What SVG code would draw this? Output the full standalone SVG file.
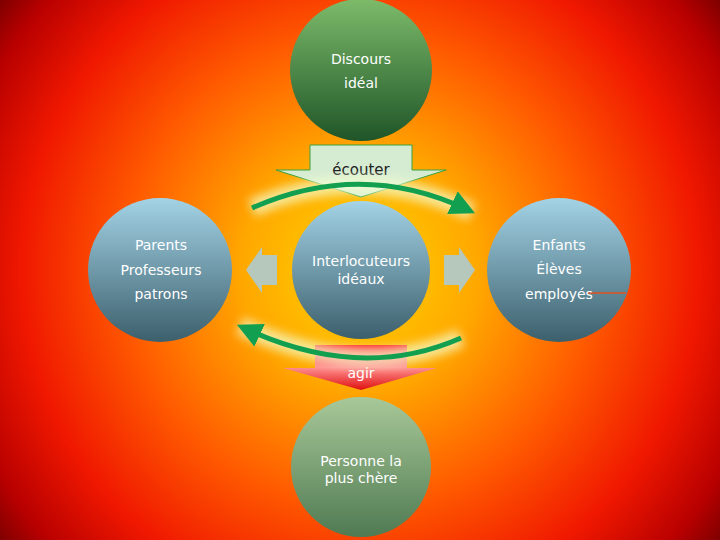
<svg xmlns="http://www.w3.org/2000/svg" width="720" height="540" viewBox="0 0 720 540">
<defs>
<radialGradient id="bg" cx="360" cy="270" r="470" gradientUnits="userSpaceOnUse">
<stop offset="0" stop-color="#ffd400"/><stop offset="0.25" stop-color="#ffa800"/><stop offset="0.5" stop-color="#ff5a00"/><stop offset="0.72" stop-color="#f01800"/><stop offset="0.88" stop-color="#b80000"/><stop offset="1" stop-color="#600000"/></radialGradient>
<linearGradient id="blue" x1="0" y1="0" x2="0" y2="1"><stop offset="0" stop-color="#a3d3e6"/><stop offset="1" stop-color="#3c5f6c"/></linearGradient>
<linearGradient id="green" x1="0" y1="0" x2="0" y2="1"><stop offset="0" stop-color="#7dbb6a"/><stop offset="1" stop-color="#1f5528"/></linearGradient>
<linearGradient id="sage" x1="0" y1="0" x2="0" y2="1"><stop offset="0" stop-color="#a8c898"/><stop offset="1" stop-color="#4f7a52"/></linearGradient>
<linearGradient id="red" x1="0" y1="0" x2="0" y2="1"><stop offset="0" stop-color="#ff2020"/><stop offset="0.5" stop-color="#ff9090"/><stop offset="1" stop-color="#e01010"/></linearGradient>
<filter id="glow" x="-20%" y="-50%" width="140%" height="200%"><feGaussianBlur stdDeviation="5"/></filter>
<marker id="ah" viewBox="0 0 10 10" refX="6" refY="5" markerWidth="5" markerHeight="5" orient="auto"><path d="M0,0 L10,5 L0,10 z" fill="#12a050"/></marker>
<style>
.t{font-family:"DejaVu Sans",sans-serif;font-size:14px;fill:#fff;text-anchor:middle}
.td{font-family:"DejaVu Sans",sans-serif;font-size:15px;fill:#222;text-anchor:middle}
.arc{fill:none;stroke:#12a050;stroke-width:5;marker-end:url(#ah)}
.glow{fill:none;stroke:#f4ffd0;stroke-width:18;opacity:0.7;filter:url(#glow)}
.side{fill:#b5c8bb}
</style>
</defs>
<rect width="720" height="540" fill="url(#bg)"/>
<g id="top"><circle cx="361" cy="70" r="71" fill="url(#green)"/><text class="t" x="361" y="64">Discours</text><text class="t" x="361" y="88">idéal</text></g>
<g id="left"><circle cx="160" cy="270" r="72" fill="url(#blue)"/><text class="t" x="161" y="250">Parents</text><text class="t" x="161" y="275">Professeurs</text><text class="t" x="161" y="299">patrons</text></g>
<g id="center"><circle cx="361" cy="270" r="69" fill="url(#blue)"/><text class="t" x="361" y="266">Interlocuteurs</text><text class="t" x="361" y="284">idéaux</text></g>
<g id="right"><circle cx="559" cy="270" r="72" fill="url(#blue)"/><line x1="588" y1="293" x2="626" y2="293" stroke="#e05020" stroke-width="1.5"/><text class="t" x="559" y="250">Enfants</text><text class="t" x="559" y="274">Élèves</text><text class="t" x="559" y="299">employés</text></g>
<g id="bottom"><circle cx="361" cy="467" r="70" fill="url(#sage)"/><text class="t" x="361" y="466">Personne la</text><text class="t" x="361" y="483">plus chère</text></g>
<g id="ecouter"><path d="M310,145 H412 V170 H446 L361,197 L276,170 H310 Z" fill="#d6ecd2" stroke="#3aa040" stroke-width="1"/><text class="td" x="361" y="175">écouter</text></g>
<g id="agir"><path d="M315,345 H407 V368 H437 L361,390 L283,368 H315 Z" fill="url(#red)"/><text class="t" x="361" y="378">agir</text></g>
<g id="connectors">
<path class="glow" d="M252,208 Q361,160 472,212"/>
<path class="glow" d="M461,338 Q361,382 240,326"/>
<path class="arc" d="M252,208 Q361,160 466,209"/>
<path class="arc" d="M461,338 Q361,382 246,329"/>
<path class="side" d="M277,255 V285 H262 V293 L246,270 L262,247 V255 Z"/>
<path class="side" d="M444,255 V285 H459 V293 L475,270 L459,247 V255 Z"/>
</g>
</svg>
